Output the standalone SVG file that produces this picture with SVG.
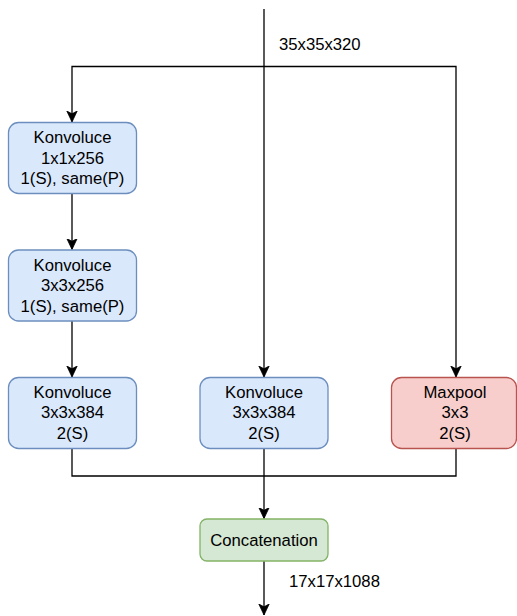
<svg xmlns="http://www.w3.org/2000/svg" width="517" height="616" viewBox="0 0 517 616">
  <style>
    .edge { fill: none; stroke: #000; stroke-width: 1.3; }
    .conv { fill: #dae8fc; stroke: #6c8ebf; stroke-width: 1.3; }
    .pool { fill: #f8cecc; stroke: #b85450; stroke-width: 1.3; }
    .concat { fill: #d5e8d4; stroke: #82b366; stroke-width: 1.3; }
    text { font-family: "Liberation Sans", Arial, Helvetica, sans-serif; font-size: 16.7px; fill: #000; }
    .c { text-anchor: middle; }
  </style>
  <defs>
    <marker id="arrow" viewBox="0 0 12 12" refX="11" refY="6" markerWidth="12" markerHeight="12" markerUnits="userSpaceOnUse" orient="auto">
      <path d="M0,0.8 L11,6 L0,11.2 L2.8,6 Z" fill="#000" stroke="#000" stroke-width="0.8"/>
    </marker>
  </defs>

  <g id="connectors">
    <!-- input trunk and its split -->
    <path class="edge" d="M264,9 V66.5"/>
    <path class="edge" d="M264,66.5 H72 V122" marker-end="url(#arrow)"/>
    <path class="edge" d="M264,66.5 V377" marker-end="url(#arrow)"/>
    <path class="edge" d="M264,66.5 H456 V377" marker-end="url(#arrow)"/>
    <!-- left branch chain -->
    <path class="edge" d="M72,193.5 V249.5" marker-end="url(#arrow)"/>
    <path class="edge" d="M72,321 V377" marker-end="url(#arrow)"/>
    <!-- merge into concatenation -->
    <path class="edge" d="M72,448.5 V476 H456 V448.5"/>
    <path class="edge" d="M264,448.5 V518.5" marker-end="url(#arrow)"/>
    <path class="edge" d="M264,561 V615" marker-end="url(#arrow)"/>
    <text x="279" y="50">35x35x320</text>
    <text x="289" y="587">17x17x1088</text>
  </g>

  <g id="conv1">
    <rect class="conv" x="8.5" y="122.5" width="128" height="71" rx="10"/>
    <text class="c" x="72.5" y="143.3">Konvoluce</text>
    <text class="c" x="72.5" y="163.6">1x1x256</text>
    <text class="c" x="72.5" y="184">1(S), same(P)</text>
  </g>

  <g id="conv2">
    <rect class="conv" x="8.5" y="250" width="128" height="71" rx="10"/>
    <text class="c" x="72.5" y="270.8">Konvoluce</text>
    <text class="c" x="72.5" y="291.1">3x3x256</text>
    <text class="c" x="72.5" y="311.5">1(S), same(P)</text>
  </g>

  <g id="conv3">
    <rect class="conv" x="8.5" y="377.5" width="128" height="71" rx="10"/>
    <text class="c" x="72.5" y="397.8">Konvoluce</text>
    <text class="c" x="72.5" y="418.1">3x3x384</text>
    <text class="c" x="72.5" y="438.5">2(S)</text>
  </g>

  <g id="conv4">
    <rect class="conv" x="200" y="377.5" width="128" height="71" rx="10"/>
    <text class="c" x="264" y="397.8">Konvoluce</text>
    <text class="c" x="264" y="418.1">3x3x384</text>
    <text class="c" x="264" y="438.5">2(S)</text>
  </g>

  <g id="maxpool">
    <rect class="pool" x="391.5" y="377.5" width="125" height="71" rx="10"/>
    <text class="c" x="455" y="397.8">Maxpool</text>
    <text class="c" x="455" y="418.1">3x3</text>
    <text class="c" x="455" y="438.5">2(S)</text>
  </g>

  <g id="concatenation">
    <rect class="concat" x="200" y="519" width="128" height="42" rx="7"/>
    <text class="c" x="264" y="545.5">Concatenation</text>
  </g>
</svg>
